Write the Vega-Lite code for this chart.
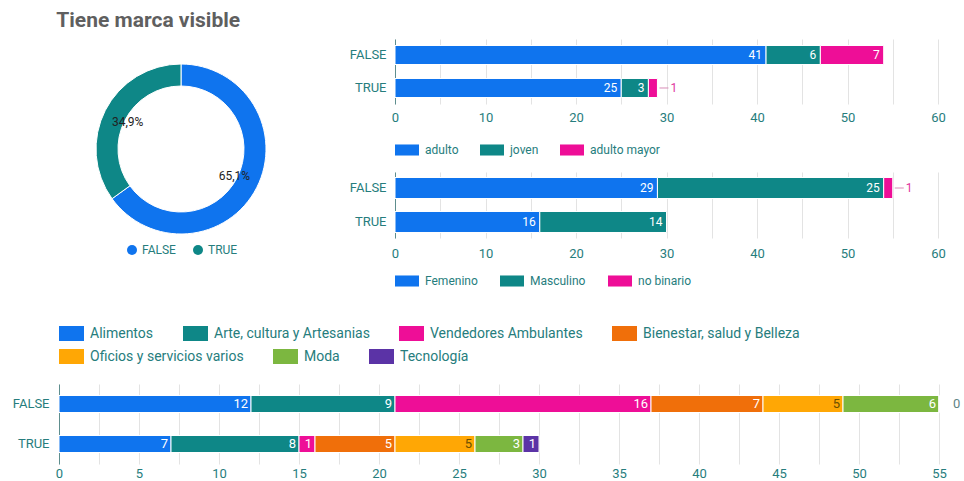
{
  "$schema": "https://vega.github.io/schema/vega-lite/v6.json",
  "padding": {"left": 12, "top": 10, "right": 0, "bottom": 0},
  "background": "white",
  "title": {"text": "Tiene marca visible", "anchor": "start", "fontSize": 21, "fontWeight": "bold", "color": "#5f5f5f", "font": "Roboto", "offset": 8, "dx": 44},
  "config": {
    "font": "Roboto",
    "view": {"stroke": null},
    "axis": {"labelColor": "#267d7d", "labelFontSize": 13, "ticks": false, "labelFont": "Roboto", "labelFlush": false, "labelOverlap": false},
    "legend": {"labelColor": "#267d7d", "labelFontSize": 12, "symbolStrokeWidth": 0, "symbolOpacity": 1, "labelFont": "Roboto"}
  },
  "datasets": {
    "visible": [
      {"marca": "FALSE", "n": 54, "pct": "65,1%"},
      {"marca": "TRUE", "n": 29, "pct": "34,9%"}
    ],
    "edad": [
      {"marca": "FALSE", "grupo": "adulto", "orden": 0, "n": 41},
      {"marca": "FALSE", "grupo": "joven", "orden": 1, "n": 6},
      {"marca": "FALSE", "grupo": "adulto mayor", "orden": 2, "n": 7},
      {"marca": "TRUE", "grupo": "adulto", "orden": 0, "n": 25},
      {"marca": "TRUE", "grupo": "joven", "orden": 1, "n": 3},
      {"marca": "TRUE", "grupo": "adulto mayor", "orden": 2, "n": 1}
    ],
    "genero": [
      {"marca": "FALSE", "grupo": "Femenino", "orden": 0, "n": 29},
      {"marca": "FALSE", "grupo": "Masculino", "orden": 1, "n": 25},
      {"marca": "FALSE", "grupo": "no binario", "orden": 2, "n": 1},
      {"marca": "TRUE", "grupo": "Femenino", "orden": 0, "n": 16},
      {"marca": "TRUE", "grupo": "Masculino", "orden": 1, "n": 14}
    ],
    "rubro": [
      {"marca": "FALSE", "grupo": "Alimentos", "orden": 0, "n": 12},
      {"marca": "FALSE", "grupo": "Arte, cultura y Artesanias", "orden": 1, "n": 9},
      {"marca": "FALSE", "grupo": "Vendedores Ambulantes", "orden": 2, "n": 16},
      {"marca": "FALSE", "grupo": "Bienestar, salud y Belleza", "orden": 3, "n": 7},
      {"marca": "FALSE", "grupo": "Oficios y servicios varios", "orden": 4, "n": 5},
      {"marca": "FALSE", "grupo": "Moda", "orden": 5, "n": 6},
      {"marca": "FALSE", "grupo": "Tecnología", "orden": 6, "n": 0},
      {"marca": "TRUE", "grupo": "Alimentos", "orden": 0, "n": 7},
      {"marca": "TRUE", "grupo": "Arte, cultura y Artesanias", "orden": 1, "n": 8},
      {"marca": "TRUE", "grupo": "Vendedores Ambulantes", "orden": 2, "n": 1},
      {"marca": "TRUE", "grupo": "Bienestar, salud y Belleza", "orden": 3, "n": 5},
      {"marca": "TRUE", "grupo": "Oficios y servicios varios", "orden": 4, "n": 5},
      {"marca": "TRUE", "grupo": "Moda", "orden": 5, "n": 3},
      {"marca": "TRUE", "grupo": "Tecnología", "orden": 6, "n": 1}
    ]
  },
  "spacing": 34,
  "resolve": {"scale": {"color": "independent", "x": "independent", "y": "independent", "theta": "independent"}, "legend": {"color": "independent"}, "axis": {"x": "independent", "y": "independent"}},
  "vconcat": [
    {
      "spacing": 46,
      "resolve": {"scale": {"color": "independent", "x": "independent", "y": "independent", "theta": "independent"}, "legend": {"color": "independent"}, "axis": {"x": "independent", "y": "independent"}},
      "hconcat": [
        {
          "width": 244,
          "height": 220,
          "data": {"name": "visible"},
          "encoding": {
            "theta": {"field": "n", "type": "quantitative", "stack": true},
            "order": {"field": "n", "type": "quantitative", "sort": "descending"}
          },
          "layer": [
            {
              "mark": {"type": "arc", "innerRadius": 63, "outerRadius": 85, "stroke": "white", "strokeWidth": 1},
              "encoding": {
                "color": {
                  "field": "marca", "type": "nominal",
                  "scale": {"domain": ["FALSE", "TRUE"], "range": ["#0f74ee", "#0e8787"]},
                  "legend": {"title": null, "orient": "none", "legendX": 67, "legendY": 205, "direction": "horizontal", "symbolType": "circle", "symbolSize": 100, "labelOffset": 4, "columnPadding": 16}
                }
              }
            },
            {
              "mark": {"type": "text", "radius": 60, "fontSize": 12, "color": "#222222"},
              "encoding": {
                "detail": {"field": "marca", "type": "nominal"},
                "text": {"field": "pct", "type": "nominal"}
              }
            }
          ]
        },
        {
          "spacing": 16,
          "resolve": {"scale": {"color": "independent", "x": "independent", "y": "independent"}, "legend": {"color": "independent"}, "axis": {"x": "independent", "y": "independent"}},
          "vconcat": [
            {
              "width": 543,
              "height": 65,
              "data": {"name": "edad"},
              "transform": [{"stack": "n", "groupby": ["marca"], "sort": [{"field": "orden"}], "as": ["x0", "x1"]}],
              "encoding": {
                "y": {"field": "marca", "type": "nominal", "scale": {"paddingInner": 0.424, "paddingOuter": 0.197}, "axis": {"title": null, "domain": true, "domainColor": "#5e8e8e", "labelPadding": 9, "grid": false}},
                "x": {"field": "x1", "type": "quantitative", "stack": null, "scale": {"domain": [0, 60]}, "axis": {"title": null, "values": [0, 5, 10, 15, 20, 25, 30, 35, 40, 45, 50, 55, 60], "labelExpr": "datum.value % 10 == 0 ? datum.label : ''", "grid": true, "gridColor": "#e3e3e3", "domain": false, "labelPadding": 7}}
              },
              "layer": [
                {
                  "mark": {"type": "bar", "stroke": "white", "strokeWidth": 1},
                  "encoding": {
                    "x2": {"field": "x0"},
                    "color": {"field": "grupo", "type": "nominal", "sort": ["adulto", "joven", "adulto mayor"],
                      "scale": {"domain": ["adulto", "joven", "adulto mayor"], "range": ["#0f74ee", "#0e8787", "#ee0e97"]},
                      "legend": {"title": null, "orient": "none", "legendX": 0, "legendY": 99, "direction": "horizontal", "symbolType": "M-1,-0.46H1V0.46H-1Z", "symbolSize": 576, "labelOffset": 6, "columnPadding": 21}}
                  }
                },
                {
                  "transform": [{"filter": "datum.n >= 2"}],
                  "mark": {"type": "text", "align": "right", "dx": -4, "color": "white", "fontSize": 12},
                  "encoding": {"text": {"field": "n", "type": "quantitative"}}
                },
                {
                  "transform": [{"filter": "datum.n < 2"}],
                  "mark": {"type": "rule", "xOffset": 2, "x2Offset": 11, "color": "#d98cb8"},
                  "encoding": {"x2": {"field": "x1"}}
                },
                {
                  "transform": [{"filter": "datum.n < 2"}],
                  "mark": {"type": "text", "align": "left", "dx": 13, "color": "#e0359c", "fontSize": 12},
                  "encoding": {"text": {"field": "n", "type": "quantitative"}}
                }
              ]
            },
            {
              "width": 543,
              "height": 66,
              "data": {"name": "genero"},
              "transform": [{"stack": "n", "groupby": ["marca"], "sort": [{"field": "orden"}], "as": ["x0", "x1"]}],
              "encoding": {
                "y": {"field": "marca", "type": "nominal", "scale": {"paddingInner": 0.382, "paddingOuter": 0.162}, "axis": {"title": null, "domain": true, "domainColor": "#5e8e8e", "labelPadding": 9, "grid": false}},
                "x": {"field": "x1", "type": "quantitative", "stack": null, "scale": {"domain": [0, 60]}, "axis": {"title": null, "values": [0, 5, 10, 15, 20, 25, 30, 35, 40, 45, 50, 55, 60], "labelExpr": "datum.value % 10 == 0 ? datum.label : ''", "grid": true, "gridColor": "#e3e3e3", "domain": false, "labelPadding": 9}}
              },
              "layer": [
                {
                  "mark": {"type": "bar", "stroke": "white", "strokeWidth": 1},
                  "encoding": {
                    "x2": {"field": "x0"},
                    "color": {"field": "grupo", "type": "nominal", "sort": ["Femenino", "Masculino", "no binario"],
                      "scale": {"domain": ["Femenino", "Masculino", "no binario"], "range": ["#0f74ee", "#0e8787", "#ee0e97"]},
                      "legend": {"title": null, "orient": "none", "legendX": 0, "legendY": 97, "direction": "horizontal", "symbolType": "M-1,-0.46H1V0.46H-1Z", "symbolSize": 576, "labelOffset": 6, "columnPadding": 22}}
                  }
                },
                {
                  "transform": [{"filter": "datum.n >= 2"}],
                  "mark": {"type": "text", "align": "right", "dx": -4, "color": "white", "fontSize": 12},
                  "encoding": {"text": {"field": "n", "type": "quantitative"}}
                },
                {
                  "transform": [{"filter": "datum.n < 2"}],
                  "mark": {"type": "rule", "xOffset": 2, "x2Offset": 11, "color": "#d98cb8"},
                  "encoding": {"x2": {"field": "x1"}}
                },
                {
                  "transform": [{"filter": "datum.n < 2"}],
                  "mark": {"type": "text", "align": "left", "dx": 13, "color": "#e0359c", "fontSize": 12},
                  "encoding": {"text": {"field": "n", "type": "quantitative"}}
                }
              ]
            }
          ]
        }
      ]
    },
    {
      "width": 880,
      "height": 80,
      "data": {"name": "rubro"},
      "transform": [{"stack": "n", "groupby": ["marca"], "sort": [{"field": "orden"}], "as": ["x0", "x1"]}],
      "encoding": {
        "y": {"field": "marca", "type": "nominal", "scale": {"paddingInner": 0.575, "paddingOuter": 0.2875}, "axis": {"title": null, "domain": true, "domainColor": "#5e8e8e", "labelPadding": 10, "grid": false}},
        "x": {"field": "x1", "type": "quantitative", "stack": null, "scale": {"domain": [0, 55], "nice": false}, "axis": {"title": null, "values": [0, 2.5, 5, 7.5, 10, 12.5, 15, 17.5, 20, 22.5, 25, 27.5, 30, 32.5, 35, 37.5, 40, 42.5, 45, 47.5, 50, 52.5, 55], "labelExpr": "datum.value % 5 == 0 ? datum.label : ''", "grid": true, "gridColor": "#e3e3e3", "domain": false, "labelPadding": 3}}
      },
      "resolve": {"scale": {"color": "independent"}, "legend": {"color": "independent"}},
      "layer": [
        {
          "transform": [{"filter": "datum.orden <= 3"}],
          "mark": {"type": "bar", "stroke": "white", "strokeWidth": 1},
          "encoding": {
            "x2": {"field": "x0"},
            "color": {"field": "grupo", "type": "nominal",
              "sort": ["Alimentos", "Arte, cultura y Artesanias", "Vendedores Ambulantes", "Bienestar, salud y Belleza"],
              "scale": {"domain": ["Alimentos", "Arte, cultura y Artesanias", "Vendedores Ambulantes", "Bienestar, salud y Belleza"], "range": ["#0f74ee", "#0e8787", "#ee0e97", "#f06f0a"]},
              "legend": {"title": null, "orient": "none", "legendX": 0, "legendY": -63, "direction": "horizontal", "symbolType": "M-1,-0.6H1V0.6H-1Z", "symbolSize": 625, "labelFontSize": 14, "labelOffset": 6, "columnPadding": 29}}
          }
        },
        {
          "transform": [{"filter": "datum.orden >= 4"}],
          "mark": {"type": "bar", "stroke": "white", "strokeWidth": 1},
          "encoding": {
            "x2": {"field": "x0"},
            "color": {"field": "grupo", "type": "nominal",
              "sort": ["Oficios y servicios varios", "Moda", "Tecnología"],
              "scale": {"domain": ["Oficios y servicios varios", "Moda", "Tecnología"], "range": ["#ffa705", "#7cb740", "#5b33a6"]},
              "legend": {"title": null, "orient": "none", "legendX": 0, "legendY": -40, "direction": "horizontal", "symbolType": "M-1,-0.6H1V0.6H-1Z", "symbolSize": 625, "labelFontSize": 14, "labelOffset": 6, "columnPadding": 29}}
          }
        },
        {
          "transform": [{"filter": "datum.n >= 1"}],
          "mark": {"type": "text", "align": "right", "dx": -3, "fontSize": 13},
          "encoding": {
            "text": {"field": "n", "type": "quantitative"},
            "color": {"condition": {"test": "datum.grupo == 'Oficios y servicios varios'", "value": "#6b4f00"}, "value": "white"}
          }
        },
        {
          "transform": [{"filter": "datum.n == 0"}],
          "mark": {"type": "text", "align": "left", "dx": 14, "color": "#5f8484", "fontSize": 13},
          "encoding": {"text": {"field": "n", "type": "quantitative"}}
        }
      ]
    }
  ]
}
